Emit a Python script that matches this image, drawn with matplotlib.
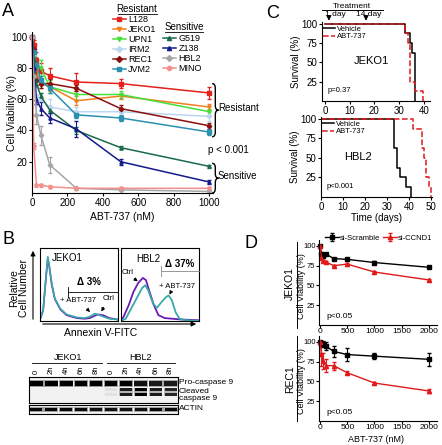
import matplotlib.pyplot as plt
from matplotlib.lines import Line2D
from matplotlib.path import Path
from matplotlib.patches import PathPatch

plt.rcParams['font.family'] = ['Liberation Sans', 'DejaVu Sans']
plt.rcParams['axes.linewidth'] = 0.8

W, H = 442, 445

# ---- A: cell viability vs ABT-737 (nM)
conc_a = [0, 10, 25, 50, 100, 250, 500, 1000]
l128 = [100, 95, 85, 78, 75, 71, 70, 64]
jeko1 = [100, 92, 78, 70, 68, 59, 62, 55]
upn1 = [100, 90, 82, 80, 68, 63, 63, 52]
irm2 = [100, 88, 62, 60, 55, 52, 52, 49]
rec1 = [100, 92, 72, 70, 70, 67, 54, 43]
jvm2 = [100, 90, 82, 72, 67, 50, 48, 39]
g519 = [100, 85, 70, 62, 53, 40, 29, 17]
z138 = [100, 80, 60, 54, 48, 41, 20, 7]
hbl2 = [100, 75, 50, 37, 18, 3, 2, 1]
mino = [100, 30, 5, 5, 4, 3, 3, 3]
l128_sd = [0, 3, 5, 5, 5, 6, 3, 4]
jeko1_sd = [0, 3, 4, 3, 3, 3, 2, 2]
upn1_sd = [0, 3, 5, 5, 4, 4, 2, 2]
irm2_sd = [0, 3, 4, 4, 5, 3, 3, 3]
rec1_sd = [0, 2, 3, 3, 3, 2, 2, 2]
jvm2_sd = [0, 3, 3, 3, 3, 2, 2, 2]
g519_sd = [0, 2, 2, 2, 2, 2, 1, 1]
z138_sd = [0, 3, 3, 4, 3, 5, 2, 1]
hbl2_sd = [0, 5, 6, 6, 5, 1, 1, 1]
mino_sd = [0, 2, 1, 1, 1, 1, 1, 1]

# ---- B: annexin V histograms (box units 0-100)
jeko_hx = [0, 4, 8, 10, 12, 15, 19, 26, 34, 47, 57, 64, 70, 74, 81, 89, 100]
jeko_abt = [3, 15, 65, 88, 75, 52, 31, 17, 9, 5, 4, 6, 10, 9, 6, 3, 2]
jeko_ctrl = [2, 14, 63, 86, 74, 50, 30, 16, 8, 4, 3, 4, 7, 9, 8, 4, 2]
hbl_ctrl_x = [0, 3, 10, 16, 22, 28, 32, 36, 42, 48, 56, 67, 78, 100]
hbl_ctrl = [1, 5, 22, 40, 52, 59, 56, 42, 22, 8, 4, 3, 2, 1]
hbl_abt_x = [0, 6, 12, 20, 27, 31, 35, 41, 46, 52, 58, 61, 65, 70, 75, 84, 100]
hbl_abt = [0, 3, 15, 31, 45, 49, 42, 24, 18, 26, 33, 35, 29, 12, 3, 1, 0]

# western blot lanes
lane_labels = ['0', '2h', '4h', '6h', '8h', '0', '2h', '4h', '6h', '8h']
procasp = [1, 1, 1, 1, 1, 1, 1, 0.9, 0.85, 0.85]
cleaved = [0, 0, 0, 0, 0, 0.05, 0.85, 1, 0.85, 0.8]
actin = [0.95, 0.95, 0.95, 0.95, 0.9, 0.9, 0.9, 0.9, 0.95, 0.95]

# ---- C: survival curves
jeko_veh_t = [0, 32.4, 34.4, 35.2, 36.4]
jeko_veh_s = [100, 87.5, 75, 62.5, 0]
jeko_abt_t = [0, 32.4, 33.5, 34.4, 36.4, 39.5]
jeko_abt_s = [100, 87.5, 75, 25, 12.5, 0]
hbl_veh_t = [0, 33, 34.8, 36, 38.8, 41.1]
hbl_veh_s = [100, 62.5, 37.5, 25, 12.5, 0]
hbl_abt_t = [0, 41.8, 46, 46.8, 47.8, 49, 50]
hbl_abt_s = [100, 87.5, 62.5, 50, 25, 12.5, 0]
treat_days = [1.6, 16.6]

# ---- D: siRNA viability
conc_d = [0, 25, 50, 100, 250, 500, 1000, 2000]
jeko_scr = [100, 90, 87, 90, 84, 83, 79, 73]
jeko_ccnd1 = [100, 85, 81, 80, 75, 77, 67, 57]
jeko_scr_sd = [0, 2, 2, 1, 1, 1, 2, 1]
jeko_ccnd1_sd = [0, 2, 1, 1, 1, 1, 1, 1]
rec_scr = [100, 98, 97, 95, 88, 84, 82, 78]
rec_ccnd1 = [100, 85, 76, 70, 70, 61, 48, 38]
rec_scr_sd = [0, 3, 4, 5, 7, 8, 4, 8]
rec_ccnd1_sd = [0, 15, 10, 8, 5, 2, 1, 3]

fig = plt.figure(figsize=(W / 100, H / 100), dpi=100)


def box(l, t, r, b):
    return fig.add_axes([l / W, 1 - b / H, (r - l) / W, (b - t) / H])


def clean(ax, size=7):
    ax.spines['top'].set_visible(False)
    ax.spines['right'].set_visible(False)
    ax.tick_params(labelsize=size, length=2.5, width=0.8, pad=1)


ov = box(0, 0, W, H)
ov.set_xlim(0, W)
ov.set_ylim(H, 0)
ov.axis('off')
ov.set_zorder(10)

# panel A
axa = box(32, 32, 213, 193)
series = [
    ('L128', l128, l128_sd, '#e4211c', 's'),
    ('JEKO1', jeko1, jeko1_sd, '#f07f1e', 'v'),
    ('UPN1', upn1, upn1_sd, '#44e03c', 'v'),
    ('IRM2', irm2, irm2_sd, '#bcd6f2', 'D'),
    ('REC1', rec1, rec1_sd, '#8a1010', 'D'),
    ('JVM2', jvm2, jvm2_sd, '#2a90b0', 's'),
    ('G519', g519, g519_sd, '#1b6b4a', '^'),
    ('Z138', z138, z138_sd, '#141a8c', '^'),
    ('HBL2', hbl2, hbl2_sd, '#a6a6a6', 'D'),
    ('MINO', mino, mino_sd, '#f2908c', 'o'),
]
handles = []
for name, vals, sd, col, mk in series:
    axa.errorbar(conc_a, vals, yerr=sd, color=col, marker=mk, ms=2.3, lw=1.1,
                 capsize=1.5, elinewidth=0.8, clip_on=False)
    handles.append(Line2D([], [], color=col, marker=mk, ms=3, lw=1.1, label=name))
axa.set_xlim(0, 1020)
axa.set_ylim(0, 103)
axa.set_xticks([0, 200, 400, 600, 800, 1000])
axa.set_yticks([20, 40, 60, 80, 100])
clean(axa)

leg1 = axa.legend(handles=handles[:6], loc='upper left', bbox_to_anchor=(113, 15),
                  bbox_transform=ov.transData, frameon=False, fontsize=6.5,
                  handlelength=1.4, handletextpad=0.3, labelspacing=0.12,
                  borderpad=0, borderaxespad=0)
axa.add_artist(leg1)
axa.legend(handles=handles[6:], loc='upper left', bbox_to_anchor=(163, 34),
           bbox_transform=ov.transData, frameon=False, fontsize=6.5,
           handlelength=1.4, handletextpad=0.3, labelspacing=0.12,
           borderpad=0, borderaxespad=0)
ov.text(137, 9, 'Resistant', fontsize=7, ha='center', va='center')
ov.plot([118, 157], [14, 14], color='k', lw=0.6)
ov.text(184, 27, 'Sensitive', fontsize=7, ha='center', va='center')
ov.plot([165, 203], [32, 32], color='k', lw=0.6)


def brace(ax, x, y0, y1, w, h):
    ym = (y0 + y1) / 2
    verts = [(x, y1), (x + w, y1), (x + w, y1 - h), (x + w, ym + h), (x + w, ym),
             (x + 2 * w, ym), (x + w, ym), (x + w, ym - h), (x + w, y0 + h),
             (x + w, y0), (x, y0)]
    codes = [Path.MOVETO, Path.CURVE3, Path.CURVE3, Path.LINETO, Path.CURVE3, Path.CURVE3,
             Path.CURVE3, Path.CURVE3, Path.LINETO, Path.CURVE3, Path.CURVE3]
    ax.add_patch(PathPatch(Path(verts, codes), fill=False, lw=1.0, clip_on=False))


brace(axa, 1015, 36, 70, 18, 3)
brace(axa, 1015, 0, 19, 18, 3)
ov.text(218, 108, 'Resistant', fontsize=7, va='center')
ov.text(208, 150, 'p < 0.001', fontsize=7, va='center')
ov.text(218, 176, 'Sensitive', fontsize=7, va='center')
ov.text(12, 113, 'Cell Viability (%)', fontsize=7.5, rotation=90, ha='center', va='center')
ov.text(122, 217, 'ABT-737 (nM)', fontsize=7.5, ha='center', va='center')

# panel B histograms
hj = box(40, 248, 118, 321)
hh = box(121, 248, 199, 321)
hj.plot(jeko_hx, jeko_ctrl, color='#6a1bb8', lw=1.2)
hj.plot(jeko_hx, jeko_abt, color='#3aa8a8', lw=1.2)
hh.plot(hbl_ctrl_x, hbl_ctrl, color='#6a1bb8', lw=1.3)
hh.plot(hbl_abt_x, hbl_abt, color='#3aa8a8', lw=1.3)
for ax in (hj, hh):
    ax.set_xlim(0, 100)
    ax.set_ylim(0, 100)
    ax.set_xticks([])
    ax.set_yticks([])
ov.annotate('', xy=(33, 248), xytext=(33, 322),
            arrowprops=dict(arrowstyle='-|>', lw=0.8, color='k', mutation_scale=7))
ov.annotate('', xy=(199, 324), xytext=(40, 324),
            arrowprops=dict(arrowstyle='-|>', lw=0.8, color='k', mutation_scale=7))
ov.text(19, 288, 'Relative\nCell Number', fontsize=7.5, rotation=90, ha='center',
        va='center', linespacing=1.0)
ov.text(101, 333, 'Annexin V-FITC', fontsize=7.5, ha='center', va='center')
ov.text(67, 258, 'JEKO1', fontsize=7, ha='center', va='center')
ov.text(148, 259, 'HBL2', fontsize=7, ha='center', va='center')
ov.text(89, 282, '\u0394 3%', fontsize=7, fontweight='bold', ha='center', va='center')
ov.plot([68, 118], [292, 292], color='k', lw=0.6)
ov.plot([68, 68], [287, 297], color='k', lw=0.6)
ov.text(180, 264, '\u0394 37%', fontsize=7, fontweight='bold', ha='center', va='center')
ov.plot([161, 199], [271, 271], color='#888888', lw=0.6)
ov.plot([161, 161], [266, 276], color='#888888', lw=0.6)
arrow = dict(arrowstyle='-|>', lw=0.7, color='k', mutation_scale=5)
ov.text(78, 301, '+ ABT-737', fontsize=5.5, ha='center', va='center')
ov.annotate('', xy=(92, 314), xytext=(85, 307), arrowprops=arrow)
ov.text(109, 299, 'Ctrl', fontsize=5.5, ha='center', va='center')
ov.annotate('', xy=(100, 314), xytext=(105, 305), arrowprops=arrow)
ov.text(128, 273, 'Ctrl', fontsize=5.5, ha='center', va='center')
ov.annotate('', xy=(140, 283), xytext=(132, 277), arrowprops=arrow)
ov.text(177, 286, '+ ABT-737', fontsize=5.5, ha='center', va='center')
ov.annotate('', xy=(168, 297), xytext=(172, 290), arrowprops=arrow)

# western blot
lanes = list(range(len(lane_labels)))
b1 = box(29, 377, 178, 403)
b2 = box(29, 405, 178, 414)
for ax in (b1, b2):
    ax.set_facecolor('#f2f2f2')
    ax.set_xlim(-0.5, len(lanes) - 0.5)
    ax.set_yticks([])
b1.set_ylim(26, 0)
b2.set_ylim(9, 0)
b1.bar(lanes, 7, bottom=2.5, width=0.95, color=[(0, 0, 0, 0.35 * a) for a in procasp])
b1.bar(lanes, 5, bottom=3.5, width=0.85, color=[(0, 0, 0, a) for a in procasp])
for y in (11.2, 15.6):
    b1.bar(lanes, 4, bottom=y - 0.5, width=0.9, color=[(0, 0, 0, 0.3 * a) for a in cleaved])
    b1.bar(lanes, 3, bottom=y, width=0.8, color=[(0, 0, 0, a) for a in cleaved])
b2.bar(lanes, 5, bottom=2, width=0.95, color=[(0, 0, 0, 0.35 * a) for a in actin])
b2.bar(lanes, 3.2, bottom=2.9, width=0.8, color=[(0, 0, 0, a) for a in actin])
b1.xaxis.tick_top()
b1.set_xticks(lanes)
b1.set_xticklabels(lane_labels, rotation=90, fontsize=5.5)
b1.tick_params(axis='x', length=0, pad=2)
b2.set_xticks([])
ov.text(68, 357, 'JEKO1', fontsize=6.5, ha='center', va='center')
ov.plot([32, 102], [363, 363], color='k', lw=0.6)
ov.text(140, 357, 'HBL2', fontsize=6.5, ha='center', va='center')
ov.plot([107, 175], [363, 363], color='k', lw=0.6)
ov.text(179, 383, 'Pro-caspase 9', fontsize=6, va='center')
ov.text(179, 395, 'Cleaved\ncaspase 9', fontsize=6, va='center', linespacing=0.9)
ov.text(179, 409, 'ACTIN', fontsize=6, va='center')

# panel C
c1 = box(322, 22, 430, 101)
c2 = box(321, 117, 432, 197)
c1.step(jeko_veh_t, jeko_veh_s, where='post', color='k', lw=1.1, label='Vehicle')
c1.step(jeko_abt_t, jeko_abt_s, where='post', color='#e0191b', lw=1.1, ls='--',
        label='ABT-737')
c2.step(hbl_veh_t, hbl_veh_s, where='post', color='k', lw=1.1, label='Vehicle')
c2.step(hbl_abt_t, hbl_abt_s, where='post', color='#e0191b', lw=1.1, ls='--',
        label='ABT-737')
c1.set_xlim(-1.2, 42.5)
c1.set_ylim(0, 102)
c1.set_xticks([0, 10, 20, 30, 40])
c2.set_xlim(0, 50.5)
c2.set_ylim(0, 102.5)
c2.set_xticks([0, 10, 20, 30, 40, 50])
for ax, name, pv in ((c1, 'JEKO1', 'p=0.37'), (c2, 'HBL2', 'p<0.001')):
    clean(ax)
    ax.set_yticks([25, 50, 75, 100])
    ax.set_ylabel('Survival (%)', fontsize=7, labelpad=0)
    ax.legend(loc='upper left', bbox_to_anchor=(0.01, 0.96), frameon=False, fontsize=5.5,
              handlelength=1.6, handletextpad=0.2, labelspacing=0.05, borderpad=0,
              borderaxespad=0)
    ax.text(0.05, 0.13, pv, fontsize=5.5, transform=ax.transAxes, va='center')
c1.text(0.46, 0.5, 'JEKO1', fontsize=8, transform=c1.transAxes, ha='center', va='center')
c2.text(0.33, 0.5, 'HBL2', fontsize=8, transform=c2.transAxes, ha='center', va='center')
c2.set_xlabel('Time (days)', fontsize=7, labelpad=1)
ov.plot([322, 383], [10, 10], color='k', lw=0.7)
ov.text(352, 6, 'Treatment', fontsize=6, ha='center', va='center')
ov.text(335, 15, '1 day', fontsize=6, ha='center', va='center')
ov.text(369, 15, '14 day', fontsize=6, ha='center', va='center')
for d in treat_days:
    c1.annotate('', xy=(d, 100), xytext=(d, 112), xycoords='data', annotation_clip=False,
                arrowprops=dict(arrowstyle='-|>', lw=0.8, color='k', mutation_scale=7))

# panel D
d1 = box(319, 240, 437, 325)
d2 = box(319, 336, 437, 421)
for ax, scr, scr_sd, cc, cc_sd in ((d1, jeko_scr, jeko_scr_sd, jeko_ccnd1, jeko_ccnd1_sd),
                                   (d2, rec_scr, rec_scr_sd, rec_ccnd1, rec_ccnd1_sd)):
    ax.errorbar(conc_d, scr, yerr=scr_sd, color='k', marker='s', ms=3, lw=1.0,
                capsize=1.5, elinewidth=0.8, clip_on=False, label='si-Scramble')
    ax.errorbar(conc_d, cc, yerr=cc_sd, color='#e0191b', marker='^', ms=3, lw=1.0,
                capsize=1.5, elinewidth=0.8, clip_on=False, label='si-CCND1')
    ax.set_xlim(-20, 2150)
    ax.set_ylim(0, 107.5)
    ax.set_xticks([0, 500, 1000, 1500, 2000])
    ax.set_yticks([25, 50, 75, 100])
    clean(ax, 6)
    ax.tick_params(axis='y', labelsize=5.5, length=2, pad=0.5)
    ax.tick_params(axis='x', length=2, pad=0.5)
    ax.text(0.06, 0.1, 'p<0.05', fontsize=6, transform=ax.transAxes, va='center')
d1.legend(loc='center left', bbox_to_anchor=(325, 238), bbox_transform=ov.transData,
          ncol=2, frameon=False, fontsize=5.5, handlelength=1.8, handletextpad=0.2,
          columnspacing=0.3, borderpad=0, borderaxespad=0)
ov.text(376, 439, 'ABT-737 (nM)', fontsize=6.5, ha='center', va='center')
ov.text(302, 286, 'Cell Viability (%)', fontsize=6.5, rotation=90, ha='center', va='center')
ov.text(302, 381, 'Cell Viability (%)', fontsize=6.5, rotation=90, ha='center', va='center')
ov.text(290, 283, 'JEKO1', fontsize=7.5, rotation=90, ha='center', va='center')
ov.plot([296.5, 296.5], [242, 328], color='k', lw=0.7)
ov.text(290, 379, 'REC1', fontsize=7.5, rotation=90, ha='center', va='center')
ov.plot([296.5, 296.5], [336, 421], color='k', lw=0.7)

# panel letters
ov.text(2, 12, 'A', fontsize=13, va='center')
ov.text(2, 240, 'B', fontsize=13, va='center')
ov.text(266, 14, 'C', fontsize=13, va='center')
ov.text(244, 243, 'D', fontsize=13, va='center')

fig.savefig('out.png', dpi=100)
